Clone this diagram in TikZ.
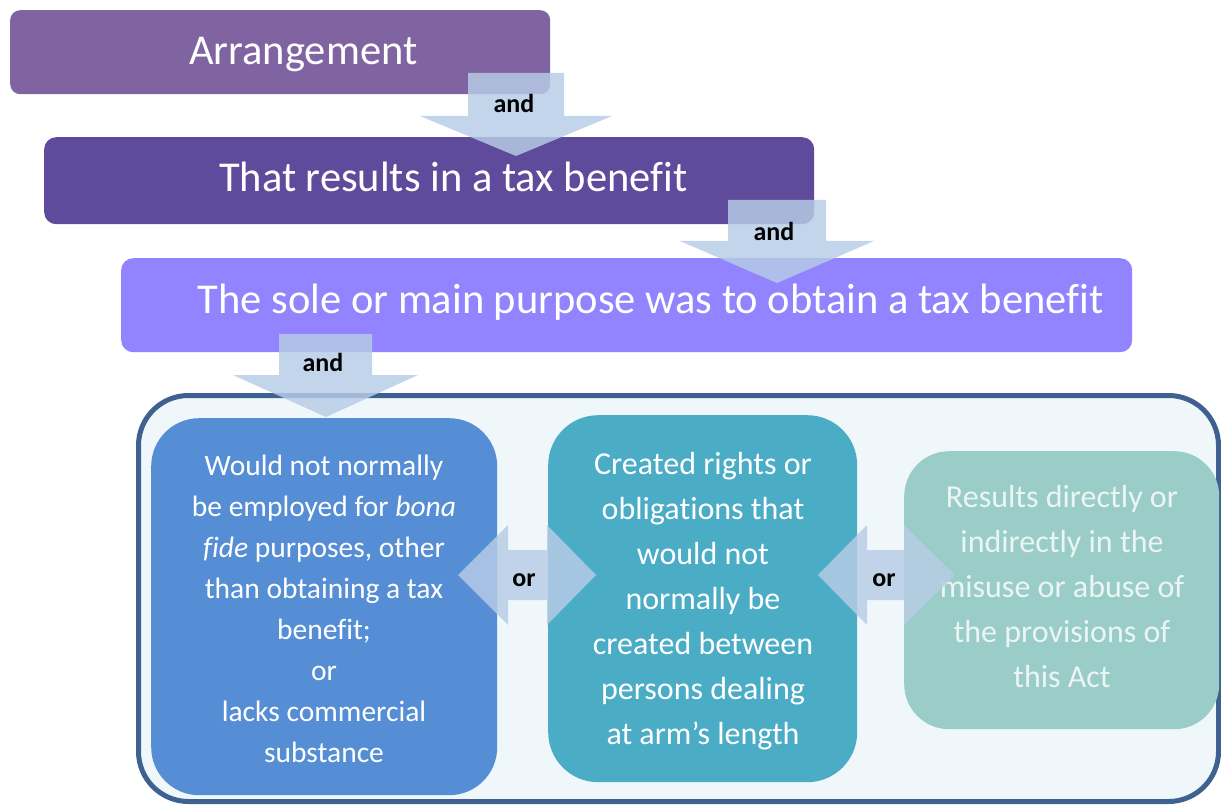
\documentclass[tikz,border=0pt]{standalone}
\usepackage{fontspec}
\setmainfont{Carlito}[Ligatures=NoCommon]
\definecolor{cArr}{HTML}{8064A2}
\definecolor{cRes}{HTML}{604A9B}
\definecolor{cSole}{HTML}{9283FE}
\definecolor{cCont}{HTML}{EFF7FA}
\definecolor{cContB}{HTML}{3E6190}
\definecolor{cA}{HTML}{558ED5}
\definecolor{cB}{HTML}{4BACC6}
\definecolor{cC}{HTML}{9ACDC8}
\definecolor{cCtxt}{HTML}{EBF5F3}
\definecolor{cBlk}{RGB}{183,204,230}
\tikzset{
  topbox/.style={rounded corners=12pt, anchor=north west, inner sep=0pt},
  toptxt/.style={text=white, font=\fontsize{42.5}{50}\selectfont, inner sep=0pt, anchor=base},
  condbox/.style={anchor=north west, inner sep=0pt},
  condtxt/.style={text=white, align=center, inner sep=0pt},
  blockarrow/.style={fill=cBlk, fill opacity=0.83, draw=none},
  conj/.style={font=\bfseries\fontsize{26}{30}\selectfont, text=black, inner sep=0pt},
}
\begin{document}
\begin{tikzpicture}[x=1pt, y=-1pt]
\useasboundingbox (0,0) rectangle (1221,805);
% top boxes
\node[topbox, fill=cArr, minimum width=540pt, minimum height=84pt, rounded corners=10pt] (arr) at (10,10) {};
\node[toptxt] (arrT) at ([xshift=23pt]arr.center |- 0,65) {Arrangement};
\node[topbox, fill=cRes, minimum width=770pt, minimum height=87pt] (res) at (44,137) {};
\node[toptxt] (resT) at ([xshift=24pt]res.center |- 0,192) {That results in a tax benefit};
\node[topbox, fill=cSole, minimum width=1011pt, minimum height=94pt] (sole) at (121,258) {};
\node[toptxt] (soleT) at ([xshift=24pt]sole.center |- 0,313) {The sole or main purpose was to obtain a tax benefit};
% container
\draw[line width=5pt, draw=cContB, fill=cCont, rounded corners=50pt] (138.5,395.5) rectangle (1218.5,801.5);
\node[inner sep=0pt, minimum width=1080pt, minimum height=406pt] (cont) at (678.5,598.5) {};
% condition boxes
\node[condbox, fill=cA, rounded corners=48pt, minimum width=346pt, minimum height=377pt] (ca) at (151,418) {};
\node[condtxt, font=\fontsize{29.5}{41}\selectfont] (caT) at (324,609) {Would not normally\\be employed for \textit{bona}\\\textit{fide} purposes, other\\than obtaining a tax\\benefit;\\or\\lacks commercial\\substance};
\node[condbox, fill=cB, rounded corners=50pt, minimum width=309pt, minimum height=367pt] (cb) at (548,415) {};
\node[condtxt, font=\fontsize{32}{45}\selectfont] (cbT) at (703,601) {Created rights or\\obligations that\\would not\\normally be\\created between\\persons dealing\\at arm’s length};
\node[condbox, fill=cC, rounded corners=45pt, minimum width=315pt, minimum height=278pt] (cc) at (904,451) {};
\node[condtxt, text=cCtxt, font=\fontsize{32}{45}\selectfont] (ccT) at (1062,587) {Results directly or\\indirectly in the\\misuse or abuse of\\the provisions of\\this Act};
% block arrows "and"
\path[blockarrow] (468,73) -- (564,73) -- (564,116) -- (612,116) -- (516,156) -- (420,116) -- (468,116) -- cycle;
\node[conj] (and1) at (514,103) {and};
\path[blockarrow] (728,200) -- (826,200) -- (826,241) -- (874,241) -- (777,283) -- (680,241) -- (728,241) -- cycle;
\node[conj] (and2) at (774,231) {and};
\path[blockarrow] (279,334) -- (372,334) -- (372,375) -- (418,375) -- (326,417) -- (233,375) -- (279,375) -- cycle;
\node[conj] (and3) at (323,362) {and};
% double arrows "or"
\path[blockarrow] (458,575) -- (508,525) -- (508,550) -- (547,550) -- (547,525) -- (596,575) -- (547,625) -- (547,600) -- (508,600) -- (508,625) -- cycle;
\node[conj] (or1) at (524,580) {or};
\path[blockarrow] (818,575) -- (867,525) -- (867,550) -- (904,550) -- (904,525) -- (955,575) -- (904,625) -- (904,600) -- (867,600) -- (867,625) -- cycle;
\node[conj] (or2) at (884,580) {or};
\end{tikzpicture}
\end{document}
